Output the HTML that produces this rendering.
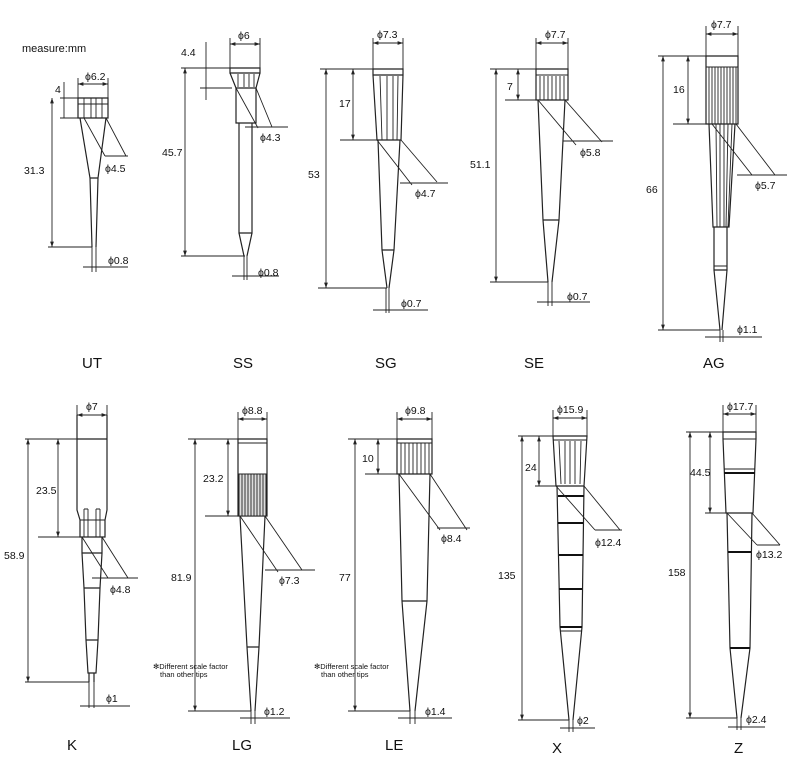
<!DOCTYPE html>
<html><head><meta charset="utf-8"><style>
html,body{margin:0;padding:0;background:#fff;}
svg{display:block;}
text{font-family:"Liberation Sans",sans-serif;fill:#111;}
.l{stroke:#222;stroke-width:1.2;fill:none;}
.t{stroke:#222;stroke-width:0.9;fill:none;}
.b{stroke:#111;stroke-width:2;fill:none;}
.d{stroke:#222;stroke-width:0.9;fill:none;marker-start:url(#a);marker-end:url(#a);}
.s{font-size:10.5px;}
.n{font-size:15px;}
</style></head><body>
<svg width="799" height="779" viewBox="0 0 799 779" xmlns="http://www.w3.org/2000/svg">
<defs><marker id="a" viewBox="0 0 10 10" refX="10" refY="5" markerWidth="6" markerHeight="6" orient="auto-start-reverse"><path d="M0,1.5 L10,5 L0,8.5 z" fill="#222"/></marker></defs>

<text x="22" y="52" style="font-size:11px">measure:mm</text>

<!-- UT -->
<g>
<path class="l" d="M78,98 H108 V118 H78 Z"/>
<path class="t" d="M84,98V118M91,98V118M96,98V118M102,98V118M78,104H108"/>
<path class="l" d="M80,118 L90,178 L92,247 M106,118 L98,178 L96,247 M90,178H98"/>
<path class="t" d="M78,78V98M108,78V98"/><path class="d" d="M78,84H108"/>
<text class="s" x="85" y="80">ϕ6.2</text>
<path class="t" d="M60,98H78M48,247H92M60,118H80"/>
<path class="d" d="M52,98V247"/><path class="t" d="M64,82V118"/>
<text class="s" x="55" y="93">4</text><text class="s" x="24" y="174">31.3</text>
<path class="t" d="M84,118L105,156M106,118L126,156M105,156H128"/>
<text class="s" x="105" y="172">ϕ4.5</text>
<path class="t" d="M92,247V272M96,247V272M83,267H128"/>
<text class="s" x="108" y="264">ϕ0.8</text>
<text class="n" x="82" y="368">UT</text>
</g>

<!-- SS -->
<g>
<path class="l" d="M230,68H260V73H230Z M230,73 L236,88 H256 L260,73"/>
<path class="t" d="M238,74V87M244,74V87M249,74V87M254,74V87"/>
<path class="l" d="M236,88V123H256V88 M239,123V233H252V123 M239,233L244,256M252,233L247,256"/>
<path class="t" d="M230,38V68M260,38V68"/><path class="d" d="M230,44H260"/>
<text class="s" x="238" y="39">ϕ6</text>
<path class="t" d="M181,68H230M200,88H232M181,256H245"/>
<path class="d" d="M185,68V256"/><path class="t" d="M206,42V100"/>
<text class="s" x="181" y="56">4.4</text><text class="s" x="162" y="156">45.7</text>
<path class="t" d="M236,88L258,128M256,88L272,127M245,127H288"/>
<text class="s" x="260" y="141">ϕ4.3</text>
<path class="t" d="M244,256V280M247,256V280M232,276H279"/>
<text class="s" x="258" y="276">ϕ0.8</text>
<text class="n" x="233" y="368">SS</text>
</g>

<!-- SG -->
<g>
<path class="l" d="M373,69H403V75H373Z M373,75L377,140H401L403,75"/>
<path class="t" d="M380,76L382,140M387,76V140M393,76V140M398,76L397,140"/>
<path class="l" d="M378,140L382,250L387,288M400,140L394,250L389,288M382,250H394"/>
<path class="t" d="M373,38V69M403,38V69"/><path class="d" d="M373,43H403"/>
<text class="s" x="377" y="38">ϕ7.3</text>
<path class="t" d="M320,69H373M340,140H378M318,288H387"/>
<path class="d" d="M326,69V288"/><path class="d" d="M353,69V140"/>
<text class="s" x="339" y="107">17</text><text class="s" x="308" y="178">53</text>
<path class="t" d="M377,140L412,185M401,140L437,182M400,183H448"/>
<text class="s" x="415" y="197">ϕ4.7</text>
<path class="t" d="M386,288V313M389,288V313M373,310H428"/>
<text class="s" x="401" y="307">ϕ0.7</text>
<text class="n" x="375" y="368">SG</text>
</g>

<!-- SE -->
<g>
<path class="l" d="M536,69H568V100H536Z"/><path class="t" d="M536,75H568"/>
<path class="t" d="M540,76V100M544,76V100M548,76V100M552,76V100M556,76V100M560,76V100M564,76V100"/>
<path class="l" d="M538,100L543,220L548,282M565,100L559,220L552,282M543,220H559"/>
<path class="t" d="M536,38V69M568,38V69"/><path class="d" d="M536,43H568"/>
<text class="s" x="545" y="38">ϕ7.7</text>
<path class="t" d="M490,69H536M505,100H538M490,282H548"/>
<path class="d" d="M496,69V282"/><path class="d" d="M518,69V100"/>
<text class="s" x="507" y="90">7</text><text class="s" x="470" y="168">51.1</text>
<path class="t" d="M538,100L576,145M565,100L602,142M563,141H613"/>
<text class="s" x="580" y="156">ϕ5.8</text>
<path class="t" d="M548,282V306M552,282V306M537,302H590"/>
<text class="s" x="567" y="300">ϕ0.7</text>
<text class="n" x="524" y="368">SE</text>
</g>

<!-- AG -->
<g>
<path class="l" d="M706,56H738V124H706Z"/><path class="t" d="M706,67H738"/>
<path class="t" d="M709,67V124M712,67V124M715,67V124M718,67V124M721,67V124M724,67V124M727,67V124M730,67V124M733,67V124M736,67V124"/>
<path class="l" d="M709,124L713,227H729L735,124M714,227V270H727V227M714,270L720,330M727,270L722,330"/>
<path class="t" d="M716,124L717,227M720,124V227M724,124V227M728,124L726,227M732,124L728,227M714,266H727"/>
<path class="t" d="M706,26V56M738,26V56"/><path class="d" d="M706,34H738"/>
<text class="s" x="711" y="28">ϕ7.7</text>
<path class="t" d="M658,56H706M673,124H709M658,330H720"/>
<path class="d" d="M663,56V330"/><path class="d" d="M688,56V124"/>
<text class="s" x="673" y="93">16</text><text class="s" x="646" y="193">66</text>
<path class="t" d="M712,124L752,175M736,124L775,175M737,175H787"/>
<text class="s" x="755" y="189">ϕ5.7</text>
<path class="t" d="M720,330V342M723,330V342M705,337H762"/>
<text class="s" x="737" y="333">ϕ1.1</text>
<text class="n" x="703" y="368">AG</text>
</g>

<!-- K -->
<g>
<path class="l" d="M77,439H107 M77,415V510 L80,520 V537 H105 V520 L107,510 V415"/>
<path class="t" d="M80,520H105M84,509V537M88,509V537M96,509V537M100,509V537M84,509H88M96,509H100"/>
<path class="l" d="M82,537V553H102V537 M82,553L84,588H100L102,553 M84,588L86,640H98L100,588 M86,640L88,673H96L98,640 M89,673V682M94,673V682"/>
<path class="t" d="M77,405V439M107,405V439"/><path class="d" d="M77,415H107"/>
<text class="s" x="86" y="410">ϕ7</text>
<path class="t" d="M25,439H77M38,537H82M25,682H89"/>
<path class="d" d="M28,439V682"/><path class="d" d="M58,439V537"/>
<text class="s" x="36" y="494">23.5</text><text class="s" x="4" y="559">58.9</text>
<path class="t" d="M82,537L108,578M102,537L128,578M92,578H138"/>
<text class="s" x="110" y="593">ϕ4.8</text>
<path class="t" d="M89,682V708M94,682V708M80,706H130"/>
<text class="s" x="106" y="702">ϕ1</text>
<text class="n" x="67" y="750">K</text>
</g>

<!-- LG -->
<g>
<path class="l" d="M238,439H267V516H238Z"/><path class="t" d="M238,443H267"/>
<rect x="239" y="474" width="27" height="42" fill="#ddd" stroke="#222" stroke-width="1"/>
<path class="t" d="M242,474V516M245,474V516M248,474V516M251,474V516M254,474V516M257,474V516M260,474V516M263,474V516"/>
<path class="l" d="M240,516L247,647L251,711M265,516L259,647L255,711M247,647H259"/>
<path class="t" d="M238,412V439M267,412V439"/><path class="d" d="M238,419H267"/>
<text class="s" x="242" y="414">ϕ8.8</text>
<path class="t" d="M188,439H238M205,516H240M188,711H251"/>
<path class="d" d="M195,439V711"/><path class="d" d="M228,439V516"/>
<text class="s" x="203" y="482">23.2</text><text class="s" x="171" y="581">81.9</text>
<path class="t" d="M240,516L278,572M265,516L302,570M265,570H315"/>
<text class="s" x="279" y="584">ϕ7.3</text>
<path class="t" d="M251,711V724M255,711V724M240,718H290"/>
<text class="s" x="264" y="715">ϕ1.2</text>
<text x="153" y="669" style="font-size:7.5px">✻Different scale factor</text>
<text x="160" y="677" style="font-size:7.5px">than other tips</text>
<text class="n" x="232" y="750">LG</text>
</g>

<!-- LE -->
<g>
<path class="l" d="M397,439H432V474H397Z"/><path class="t" d="M397,443H432"/>
<path class="t" d="M401,443V474M405,443V474M409,443V474M413,443V474M417,443V474M421,443V474M425,443V474M429,443V474"/>
<path class="l" d="M399,474L402,601L410,711M430,474L427,601L415,711M402,601H427"/>
<path class="t" d="M397,412V439M432,412V439"/><path class="d" d="M397,419H432"/>
<text class="s" x="405" y="414">ϕ9.8</text>
<path class="t" d="M348,439H397M365,474H399M348,711H410"/>
<path class="d" d="M355,439V711"/><path class="d" d="M378,439V474"/>
<text class="s" x="362" y="462">10</text><text class="s" x="339" y="581">77</text>
<path class="t" d="M399,474L440,530M430,474L467,530M437,528H470"/>
<text class="s" x="441" y="542">ϕ8.4</text>
<path class="t" d="M410,711V724M415,711V724M398,718H452"/>
<text class="s" x="425" y="715">ϕ1.4</text>
<text x="314" y="669" style="font-size:7.5px">✻Different scale factor</text>
<text x="321" y="677" style="font-size:7.5px">than other tips</text>
<text class="n" x="385" y="750">LE</text>
</g>

<!-- X -->
<g>
<path class="l" d="M553,436H587L584,486H556Z"/><path class="t" d="M553,440H587"/>
<path class="t" d="M559,441L561,484M565,441V484M570,441L570,484M575,441V484M581,441L580,484"/>
<path class="l" d="M557,486L560,627L569,720M584,486L582,627L573,720"/>
<path class="b" d="M558,496H584M558,523H583M559,555H583M559,589H582M560,627H582"/>
<path class="t" d="M560,631H582"/>
<path class="t" d="M553,410V436M587,410V436"/><path class="d" d="M553,418H587"/>
<text class="s" x="557" y="413">ϕ15.9</text>
<path class="t" d="M518,436H553M535,486H556M518,720H569"/>
<path class="d" d="M522,436V720"/><path class="d" d="M539,436V486"/>
<text class="s" x="525" y="471">24</text><text class="s" x="498" y="579">135</text>
<path class="t" d="M556,486L595,530M584,486L620,530M595,530H622"/>
<text class="s" x="595" y="546">ϕ12.4</text>
<path class="t" d="M569,720V732M573,720V732M560,728H595"/>
<text class="s" x="577" y="724">ϕ2</text>
<text class="n" x="552" y="753">X</text>
</g>

<!-- Z -->
<g>
<path class="l" d="M723,432H756V439L753,513H726L723,439Z"/><path class="t" d="M723,439H756M724,469H755"/>
<path class="b" d="M724,473H755"/>
<path class="l" d="M727,513L730,648L737,718M752,513L750,648L741,718"/>
<path class="b" d="M728,552H751M730,648H750"/>
<path class="t" d="M723,405V432M756,405V432"/><path class="d" d="M723,414H756"/>
<text class="s" x="727" y="410">ϕ17.7</text>
<path class="t" d="M686,432H723M705,513H726M686,718H737"/>
<path class="d" d="M690,432V718"/><path class="d" d="M710,432V513"/>
<text class="s" x="690" y="476">44.5</text><text class="s" x="668" y="576">158</text>
<path class="t" d="M727,513L757,545M752,513L780,545M757,545H780"/>
<text class="s" x="756" y="558">ϕ13.2</text>
<path class="t" d="M737,718V730M741,718V730M728,727H765"/>
<text class="s" x="746" y="723">ϕ2.4</text>
<text class="n" x="734" y="753">Z</text>
</g>
</svg>
</body></html>
